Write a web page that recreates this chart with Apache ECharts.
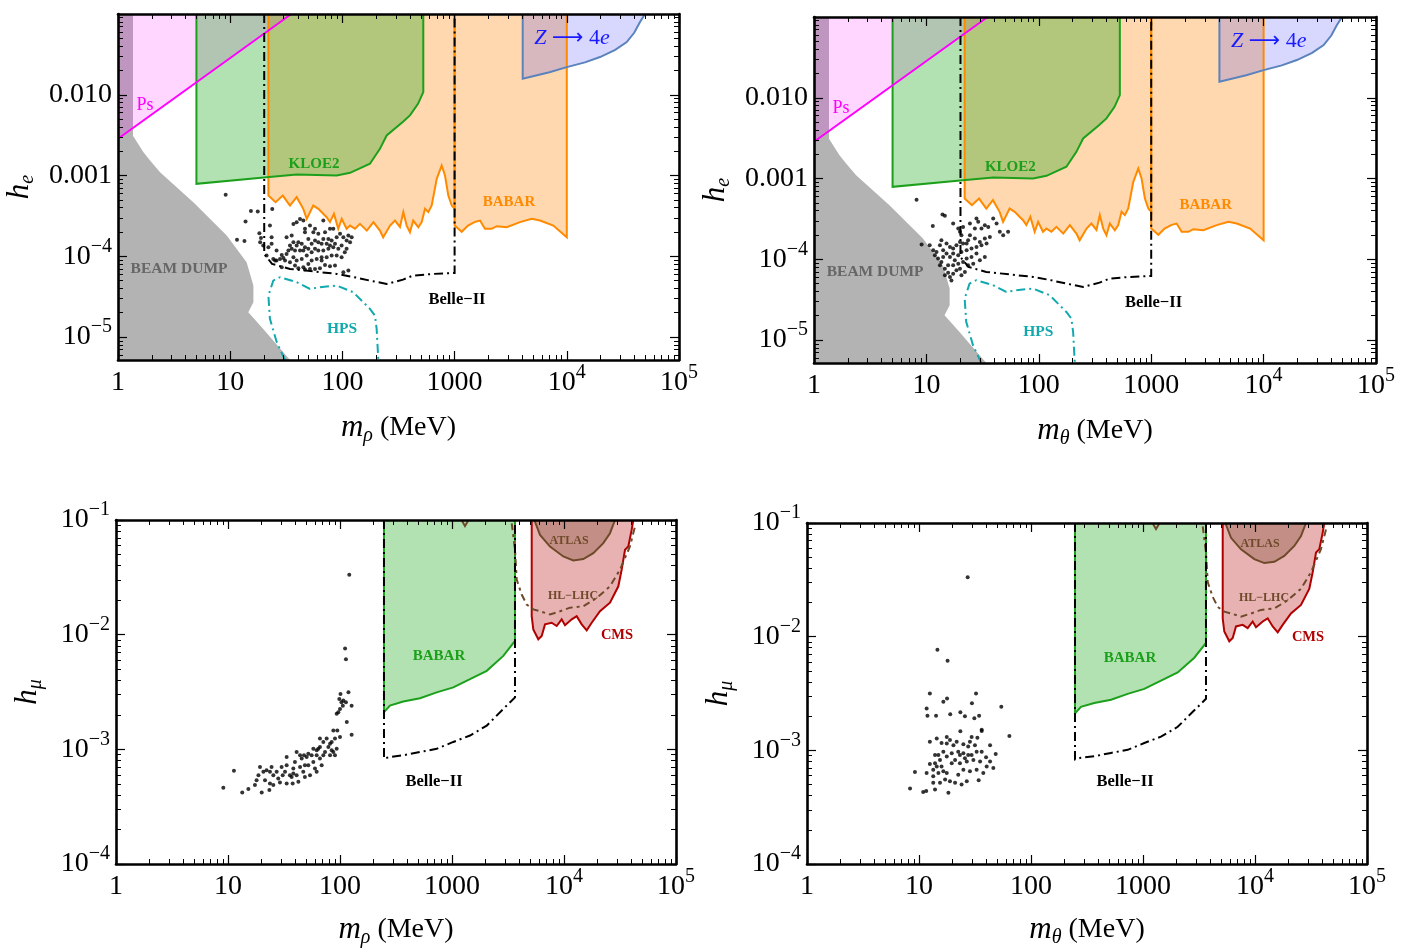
<!DOCTYPE html>
<html>
<head>
<meta charset="utf-8">
<script src="https://cdn.jsdelivr.net/npm/echarts@6/dist/echarts.min.js"></script>
<style>
  html, body { margin: 0; padding: 0; background: #ffffff; }
  #chart { width: 1402px; height: 949px; }
</style>
</head>
<body>
<div id="chart"></div>
<script>
// ---------------- axis ticks and ranges ----------------
const massRange = [1, 1e5];
const heRange = [5.2e-6, 0.1];
const hmuRange = [1e-4, 0.1];

const massTicks = [1, 10, 100, 1000, 1e4, 1e5];
const massTickLabels = ['1', '10', '100', '1000', '10{sup|4}', '10{sup|5}'];
const heTicks = [1e-5, 1e-4, 1e-3, 1e-2];
const heTickLabels = ['10{sup|−5}', '10{sup|−4}', '0.001', '0.010'];
const hmuTicks = [1e-4, 1e-3, 1e-2, 1e-1];
const hmuTickLabels = ['10{sup|−4}', '10{sup|−3}', '10{sup|−2}', '10{sup|−1}'];

// ---------------- electron-coupling bounds (m in MeV, h_e) ----------------
const beamDump = [[1, 0.1], [1.36, 0.1], [1.36, 3.1e-3], [1.68, 1.95e-3], [1.93, 1.53e-3], [2.37, 1.10e-3],
  [4.69, 4.68e-4], [9.31, 1.81e-4], [14.0, 8.45e-5], [16.1, 4.34e-5], [16.1, 2.70e-5], [14.5, 2.03e-5],
  [19.7, 1.26e-5], [34.1, 5.2e-6], [1, 5.2e-6]];
const psLine = [[1, 2.85e-3], [35.1, 0.1]];
const psRegion = [[1, 2.85e-3], [35.1, 0.1], [1, 0.1]];
const kloe2 = [[5, 0.1], [5, 7.9e-4], [21.1, 9.55e-4], [39.2, 1.03e-3], [88.9, 1.0e-3], [117, 1.08e-3],
  [176, 1.40e-3], [216, 2.14e-3], [248, 3.13e-3], [347, 4.63e-3], [400, 5.55e-3], [472, 7.73e-3],
  [526, 1.08e-2], [526, 0.1]];
const babarLow = [[21.9, 0.1], [21.9, 5.65e-4], [25.4, 4.68e-4], [29.4, 5.65e-4], [34.1, 4.25e-4],
  [39.1, 5.40e-4], [44.8, 3.87e-4], [48.1, 2.91e-4], [55.0, 4.25e-4], [61.0, 3.87e-4], [72.4, 3.05e-4],
  [77.5, 2.65e-4], [84.1, 3.35e-4], [91.9, 2.19e-4], [98.6, 2.91e-4], [109, 2.19e-4], [117, 2.40e-4],
  [129.5, 2.19e-4], [143.5, 2.52e-4], [165, 2.08e-4], [189, 2.65e-4], [216, 2.08e-4], [231, 1.72e-4],
  [266, 2.40e-4], [294, 2.77e-4], [326, 2.31e-4], [349, 3.52e-4], [374, 2.40e-4], [400, 1.99e-4],
  [428, 2.77e-4], [475, 2.29e-4], [509, 2.65e-4], [545, 3.87e-4], [583, 3.52e-4], [625, 4.25e-4],
  [693, 9.1e-4], [767, 1.33e-3], [821, 1.0e-3], [879, 5.65e-4], [943, 4.25e-4], [1000, 3.87e-4], [1000, 0.1]];
const babarHigh = [[1000, 0.1], [1000, 2.4e-4], [1044, 2.29e-4], [1157, 2.01e-4], [1316, 2.40e-4],
  [1520, 2.67e-4], [1684, 2.77e-4], [1866, 2.19e-4], [2142, 2.19e-4], [2372, 2.36e-4], [2913, 2.29e-4],
  [3827, 2.65e-4], [4867, 2.91e-4], [5769, 2.77e-4], [7582, 2.40e-4], [1e4, 1.72e-4], [1e4, 0.1]];
const zTo4e = [[4045, 0.1], [4045, 1.58e-2], [7000, 1.90e-2], [1e4, 2.20e-2], [14500, 2.52e-2],
  [19770, 2.93e-2], [27000, 3.60e-2], [34200, 4.50e-2], [40000, 5.90e-2], [44900, 7.96e-2], [49800, 0.1]];
const belleE = [[20.1, 0.1], [20.1, 1.07e-4], [23.6, 8.05e-5], [34.1, 6.98e-5], [89, 6.05e-5], [124, 5.56e-5],
  [176, 5.0e-5], [248, 4.55e-5], [347, 5.14e-5], [426, 5.77e-5], [642, 6.05e-5], [1000, 6.22e-5], [1000, 0.1]];
const hps = [[30.8, 5.2e-6], [26.0, 8.62e-6], [22.6, 1.68e-5], [21.9, 3.26e-5], [24.2, 5.0e-5], [27.8, 5.51e-5],
  [39.1, 4.78e-5], [51.4, 3.95e-5], [63.2, 4.14e-5], [89, 4.34e-5], [125, 3.59e-5], [176, 2.23e-5],
  [195, 1.84e-5], [202, 1.26e-5], [209, 5.2e-6]];

// ---------------- muon-coupling bounds (m in MeV, h_mu) ----------------
const babarMu = [[247, 0.1], [247, 2.11e-3], [279, 2.41e-3], [367, 2.61e-3], [518, 2.79e-3], [730, 3.14e-3],
  [1027, 3.47e-3], [1448, 4.10e-3], [2042, 4.84e-3], [2871, 6.53e-3], [3651, 8.81e-3], [3651, 0.1]];
const belleMu = [[247, 0.1], [247, 8.30e-4], [279, 8.59e-4], [367, 8.87e-4], [518, 9.49e-4], [730, 1.01e-3],
  [1027, 1.16e-3], [1448, 1.32e-3], [2042, 1.61e-3], [2871, 2.25e-3], [3651, 2.84e-3], [3651, 0.1]];
const cms = [[5148, 0.1], [5148, 1.45e-2], [5320, 1.11e-2], [5895, 9.11e-3], [6324, 9.73e-3], [6765, 1.23e-2],
  [7762, 1.27e-2], [8604, 1.19e-2], [9530, 1.36e-2], [10210, 1.21e-2], [11720, 1.36e-2], [12980, 1.45e-2],
  [14390, 1.23e-2], [15950, 1.09e-2], [17670, 1.27e-2], [20950, 1.60e-2], [25740, 1.90e-2], [30550, 2.64e-2],
  [32740, 3.69e-2], [35060, 5.50e-2], [37500, 5.87e-2], [40190, 8.19e-2], [41560, 0.1]];
const atlas = [[5430, 0.1], [6110, 7.41e-2], [7500, 5.87e-2], [9860, 4.81e-2], [12110, 4.44e-2],
  [14870, 4.56e-2], [18260, 5.14e-2], [22430, 6.28e-2], [25740, 7.67e-2], [28530, 0.1]];
const hlLhc = [[3413, 9.36e-2], [3651, 5.5e-2], [3783, 3.02e-2], [4190, 2.24e-2], [4645, 1.83e-2],
  [5320, 1.66e-2], [6110, 1.60e-2], [7500, 1.50e-2], [9210, 1.60e-2], [11320, 1.72e-2], [14870, 1.77e-2],
  [19590, 2.09e-2], [25740, 2.64e-2], [31620, 3.69e-2], [38790, 5.87e-2], [43010, 8.75e-2]];
const hlLhcNotch = [[1230, 0.098], [1306, 0.0885], [1390, 0.098]];

// ---------------- model points ----------------
const pointsRhoE = [[9.11,5.77e-4],[15.3,3.65e-4],[17.6,3.58e-4],[13.7,2.69e-4],[11.5,1.60e-4],[13.4,1.55e-4],
  [23.7,3.86e-4],[22.6,2.40e-4],[18.2,1.93e-4],[18.8,1.68e-4],[23.4,1.72e-4],[18.5,1.49e-4],[19.7,1.36e-4],
  [21.9,1.29e-4],[25.9,1.18e-4],[21.1,1.02e-4],[24.2,9.29e-5],[25.9,8.85e-5],[27.8,9.29e-5],[29.8,9.55e-5],
  [28.8,1.04e-4],[31.8,1.07e-4],[33.0,1.18e-4],[35.3,1.24e-4],[31.8,1.72e-4],[35.3,1.81e-4],[36.6,2.52e-4],
  [39.1,2.64e-4],[41.9,2.90e-4],[44.9,2.77e-4],[46.4,2.19e-4],[46.4,1.99e-4],[40.5,1.49e-4],[43.4,1.43e-4],
  [46.4,1.29e-4],[44.9,1.18e-4],[49.7,1.24e-4],[53.2,1.43e-4],[57.0,1.57e-4],[61.0,1.49e-4],[55.1,1.99e-4],
  [57.0,2.19e-4],[61.0,1.90e-4],[67.6,2.77e-4],[70.0,1.99e-4],[77.5,2.19e-4],[83.0,2.19e-4],[80.2,1.57e-4],
  [88.9,1.72e-4],[95.3,1.90e-4],[102,1.72e-4],[109,1.57e-4],[117,1.49e-4],[121,1.72e-4],[113,1.81e-4],
  [98.4,1.36e-4],[92.0,1.24e-4],[83.0,1.29e-4],[75.0,1.24e-4],[67.6,1.18e-4],[61.0,1.18e-4],[57.0,1.24e-4],
  [53.2,1.12e-4],[48.1,1.02e-4],[43.4,9.29e-5],[39.1,8.85e-5],[37.8,7.67e-5],[40.5,7.11e-5],[44.9,7.31e-5],
  [49.7,8.05e-5],[53.2,8.85e-5],[59.0,9.29e-5],[65.3,9.73e-5],[72.4,9.73e-5],[80.2,1.02e-4],[88.9,1.02e-4],
  [98.4,9.73e-5],[105,1.12e-4],[109,1.24e-4],[85.9,7.67e-5],[77.5,7.53e-5],[70.0,7.82e-5],[63.1,7.11e-5],
  [57.0,6.98e-5],[51.4,6.98e-5],[46.4,6.85e-5],[102,6.35e-5],[113,6.65e-5],[28.8,7.32e-5],[25.1,8.85e-5],
  [34.1,8.45e-5],[36.6,9.73e-5],[39.1,1.36e-4],[41.9,1.18e-4],[36.6,1.49e-4],[34.1,1.36e-4],[37.8,1.18e-4],
  [65.3,1.43e-4],[72.4,1.43e-4],[77.5,1.36e-4],[85.9,1.43e-4],[75.0,1.64e-4],[67.6,1.64e-4],[49.7,1.64e-4],
  [51.4,2.40e-4],[23.4,1.43e-4],[30.8,8.85e-5],[65.3,8.85e-5]];
const pointsThetaE = [[8.17,5.46e-4],[13.9,3.59e-4],[14.6,3.45e-4],[11.4,2.59e-4],[9.06,1.52e-4],[10.7,1.49e-4],
  [17.3,2.77e-4],[19.2,2.40e-4],[19.9,2.19e-4],[21.2,2.52e-4],[24.4,2.77e-4],[27.9,3.20e-4],[28.9,2.91e-4],
  [30.9,2.40e-4],[33.1,2.64e-4],[35.5,2.52e-4],[39.3,3.20e-4],[42.1,2.77e-4],[45.0,2.19e-4],[48.2,1.99e-4],
  [53.3,2.19e-4],[36.7,1.89e-4],[33.1,1.81e-4],[29.9,1.64e-4],[27.0,1.81e-4],[24.4,1.99e-4],[23.5,1.72e-4],
  [21.2,1.57e-4],[19.9,1.64e-4],[18.5,1.49e-4],[17.3,1.36e-4],[16.2,1.42e-4],[15.1,1.57e-4],[13.6,1.72e-4],
  [13.2,1.49e-4],[14.1,1.29e-4],[12.3,1.23e-4],[11.9,1.12e-4],[12.7,1.02e-4],[13.6,9.27e-5],[13.2,8.43e-5],
  [14.6,7.66e-5],[15.6,6.83e-5],[16.2,6.04e-5],[17.3,6.64e-5],[18.5,7.30e-5],[19.9,7.66e-5],[19.2,8.83e-5],
  [17.9,9.72e-5],[16.2,1.07e-4],[15.1,1.18e-4],[17.3,1.18e-4],[19.2,1.12e-4],[20.5,1.23e-4],[22.8,1.29e-4],
  [25.2,1.36e-4],[27.9,1.42e-4],[30.9,1.49e-4],[34.3,1.57e-4],[27.9,1.18e-4],[25.2,1.07e-4],[22.8,1.02e-4],
  [21.2,9.27e-5],[23.5,8.43e-5],[26.1,8.83e-5],[29.9,9.72e-5],[33.1,1.07e-4],[22.0,6.97e-5],[20.5,6.33e-5],
  [15.6,8.43e-5],[14.1,1.07e-4],[17.3,8.43e-5],[11.5,1.29e-4],[14.6,6.33e-5],[16.7,5.48e-5],[22.8,1.57e-4],
  [27.0,2.40e-4],[20.5,1.99e-4]];
const pointsRhoMu = [[9.08,4.62e-4],[11.3,6.49e-4],[13.4,4.21e-4],[15.2,4.50e-4],[18.0,5.38e-4],[18.7,5.95e-4],
  [19.3,7.03e-4],[20.0,4.21e-4],[21.4,5.38e-4],[23.4,4.41e-4],[23.7,5.03e-4],[23.7,6.36e-4],[24.5,7.03e-4],
  [25.4,5.95e-4],[28.1,5.57e-4],[29.1,5.14e-4],[30.1,7.03e-4],[32.3,6.36e-4],[33.4,7.26e-4],[35.7,5.95e-4],
  [37.8,5.03e-4],[38.3,6.79e-4],[39.6,7.76e-4],[41.0,5.95e-4],[42.5,5.21e-4],[44.0,7.03e-4],[45.5,8.30e-4],
  [47.0,6.36e-4],[48.6,7.26e-4],[50.4,8.57e-4],[52.1,7.26e-4],[54.0,5.95e-4],[55.8,8.87e-4],[57.8,7.76e-4],
  [59.8,6.79e-4],[61.9,8.87e-4],[64.0,1.01e-3],[66.2,8.30e-4],[68.6,7.26e-4],[71.0,1.16e-3],[73.5,9.48e-4],
  [76.0,1.24e-3],[78.7,1.05e-3],[81.5,8.87e-4],[84.3,1.16e-3],[87.2,9.48e-4],[90.2,1.24e-3],[93.4,1.01e-3],
  [87.2,1.46e-3],[93.4,2.04e-3],[96.6,2.11e-3],[100,2.25e-3],[103,2.57e-3],[107,2.66e-3],[101,3.04e-3],
  [119,3.14e-3],[113,2.57e-3],[127,2.40e-3],[100,1.28e-3],[115,1.73e-3],[111,7.57e-3],[113,6.11e-3],
  [121,3.33e-2],[127,1.34e-3],[94.6,1.46e-3],[81.5,1.12e-3],[66.2,1.24e-3],[61.9,9.80e-4],[52.1,9.16e-4],
  [47.7,8.87e-4],[37.0,5.75e-4],[33.4,5.03e-4],[30.8,5.95e-4],[27.2,6.36e-4],[25.4,4.88e-4],[22.1,6.58e-4],
  [20.7,6.36e-4],[17.4,4.88e-4],[41.0,9.48e-4],[57.8,1.01e-3],[71.0,8.87e-4],[84.3,9.80e-4],[90.2,8.87e-4],
  [33.4,8.57e-4],[38.3,6.15e-4],[48.6,5.75e-4],[61.9,6.36e-4],[66.2,1.05e-3],[44.0,8.87e-4],[98.6,2.75e-3],
  [106,2.40e-3]];
const pointsThetaMu = [[27.2,3.33e-2],[14.6,7.66e-3],[18.0,6.15e-3],[12.5,3.16e-3],[11.7,2.33e-3],[11.9,2.02e-3],
  [14.2,2.02e-3],[16.5,2.68e-3],[17.8,2.86e-3],[19.0,2.08e-3],[23.4,2.16e-3],[25.7,1.99e-3],[29.7,2.59e-3],
  [32.3,3.16e-3],[31.2,1.92e-3],[34.4,2.01e-3],[54.3,2.42e-3],[64.1,1.34e-3],[23.4,1.47e-3],[36.3,1.48e-3],
  [33.2,1.29e-3],[31.6,1.11e-3],[28.5,1.19e-3],[27.5,1.08e-3],[43.1,1.11e-3],[48.4,9.29e-4],[39.7,8.69e-4],
  [46.1,6.98e-4],[37.5,6.31e-4],[34.1,5.46e-4],[35.1,7.98e-4],[30.6,8.24e-4],[26.7,7.98e-4],[24.9,9.42e-4],
  [22.4,9.73e-4],[21.7,1.19e-3],[20.3,1.11e-3],[18.9,1.23e-3],[17.7,1.31e-3],[15.9,1.16e-3],[14.4,1.27e-3],
  [12.5,1.19e-3],[13.9,9.10e-4],[14.9,9.10e-4],[16.5,9.73e-4],[17.7,8.81e-4],[19.6,9.42e-4],[21.0,8.24e-4],
  [23.2,7.71e-4],[24.9,6.75e-4],[22.4,6.11e-4],[21.0,5.18e-4],[18.9,5.35e-4],[17.7,6.31e-4],[16.5,6.53e-4],
  [14.9,6.31e-4],[13.4,5.91e-4],[12.5,7.60e-4],[13.9,7.71e-4],[14.4,7.21e-4],[15.9,7.21e-4],[17.1,5.53e-4],
  [15.4,5.18e-4],[13.4,5.18e-4],[13.9,4.53e-4],[11.7,6.31e-4],[9.20,6.44e-4],[8.32,4.62e-4],[10.9,4.30e-4],
  [11.6,4.38e-4],[18.3,4.24e-4],[24.0,5.00e-4],[26.7,5.35e-4],[28.5,6.53e-4],[32.7,6.75e-4],[40.2,7.21e-4],
  [43.1,7.98e-4],[36.3,9.73e-4],[29.5,9.10e-4],[25.7,8.51e-4],[19.6,7.71e-4],[32.7,9.73e-4],[23.2,9.10e-4],
  [15.4,8.24e-4],[13.4,6.75e-4],[17.7,1.15e-3],[24.9,1.13e-3],[29.5,1.31e-3],[36.3,1.52e-3],[27.5,9.10e-4]];

// ---------------- region labels ----------------
const labelsE = ['Ps', 'KLOE2', 'BABAR', 'BEAM DUMP', 'HPS', 'Belle−II', '{i|Z} {a|⟶} 4{i|e}'];
const labelsEAt = [[1.74, 7.31e-3], [55.8, 1.40e-3], [3055, 4.72e-4], [3.50, 6.98e-5], [99.1, 1.26e-5], [1050, 2.88e-5], [11120, 4.95e-2]];
const labelsMu = ['BABAR', 'Belle−II', 'ATLAS', 'HL−LHC', 'CMS'];
const labelsMuAt = [[766, 6.49e-3], [691, 5.25e-4], [11090, 6.57e-2], [12030, 2.19e-2], [29730, 9.87e-3]];

// ---------------- styling ----------------
const SERIF = "'Liberation Serif', 'DejaVu Serif', serif";
const labelStylesE = [
  { fill: '#ff00ff', fontSize: 18, fontWeight: 'normal' },
  { fill: '#1ca01c', fontSize: 15, fontWeight: 'bold' },
  { fill: '#ff8a00', fontSize: 15, fontWeight: 'bold' },
  { fill: '#666666', fontSize: 15.5, fontWeight: 'bold' },
  { fill: '#12a9ae', fontSize: 15.5, fontWeight: 'bold' },
  { fill: '#000000', fontSize: 16.5, fontWeight: 'bold' },
  { fill: '#1a1aff', fontSize: 22, fontWeight: 'normal' }
];
const labelStylesMu = [
  { fill: '#1ca01c', fontSize: 15, fontWeight: 'bold' },
  { fill: '#000000', fontSize: 16.5, fontWeight: 'bold' },
  { fill: '#6e4a2a', fontSize: 12, fontWeight: 'bold' },
  { fill: '#6e4a2a', fontSize: 12, fontWeight: 'bold' },
  { fill: '#b00000', fontSize: 14.5, fontWeight: 'bold' }
];

const grids = [
  { left: 118, top: 14, width: 561, height: 346 },
  { left: 814, top: 17, width: 562, height: 346 },
  { left: 116, top: 520, width: 560, height: 346 },
  { left: 807, top: 523, width: 560, height: 346 }
];

function decadeMinors(lo, hi) {
  const out = [];
  for (let e = lo; e < hi; e++) for (let d = 2; d <= 9; d++) out.push(d * Math.pow(10, e));
  return out;
}
function tickFormatter(vals, texts) {
  return function (v) {
    for (let i = 0; i < vals.length; i++) {
      if (Math.abs(Math.log10(v) - Math.log10(vals[i])) < 1e-3) return texts[i];
    }
    return '';
  };
}

const TICK_FONT = 28;
const SUP_FONT = 20;
const xAxes = [], yAxes = [];
function addAxes(list, dim, gi, range, majors, minors, labelTexts, name, nameGap) {
  const sides = dim === 'x' ? ['bottom', 'top'] : ['left', 'right'];
  const base = {
    type: 'log', logBase: 10, gridIndex: gi, min: range[0], max: range[1], z: 10,
    splitLine: { show: false }, silent: true
  };
  const frame = { show: true, onZero: false, lineStyle: { color: '#000', width: 2.6 } };
  const major = { show: true, inside: true, length: 9, customValues: majors, lineStyle: { color: '#000', width: 1.2 } };
  const minor = { show: true, inside: true, length: 5, customValues: minors, lineStyle: { color: '#000', width: 1 } };
  list.push(Object.assign({}, base, {
    position: sides[0], axisLine: frame, axisTick: major,
    axisLabel: {
      show: true, customValues: majors, formatter: tickFormatter(majors, labelTexts),
      margin: dim === 'x' ? 3 : 6, color: '#000', fontFamily: SERIF, fontSize: TICK_FONT,
      lineHeight: 40,
      rich: { sup: { fontFamily: SERIF, fontSize: SUP_FONT, lineHeight: SUP_FONT, verticalAlign: 'top', color: '#000' } }
    },
    name: name, nameLocation: 'middle', nameGap: nameGap,
    nameTextStyle: {
      fontFamily: SERIF, fontSize: 28, color: '#000', lineHeight: 36,
      rich: {
        it: { fontFamily: SERIF, fontStyle: 'italic', fontSize: 31, color: '#000' },
        sub: { fontFamily: SERIF, fontStyle: 'italic', fontSize: 20, lineHeight: 20, verticalAlign: 'bottom', color: '#000' }
      }
    }
  }));
  list.push(Object.assign({}, base, { position: sides[0], axisLine: { show: false }, axisTick: minor, axisLabel: { show: false } }));
  list.push(Object.assign({}, base, { position: sides[1], axisLine: frame, axisTick: major, axisLabel: { show: false } }));
  list.push(Object.assign({}, base, { position: sides[1], axisLine: { show: false }, axisTick: minor, axisLabel: { show: false } }));
}

const massMinors = decadeMinors(0, 5);
const heMinors = decadeMinors(-6, -1);
const hmuMinors = decadeMinors(-4, -1);
const massNames = ['{it|m}{sub|ρ} (MeV)', '{it|m}{sub|θ} (MeV)'];

for (let gi = 0; gi < 4; gi++) {
  const top = gi < 2;
  addAxes(xAxes, 'x', gi, massRange, massTicks, massMinors, massTickLabels, massNames[gi % 2], top ? 50 : 48);
  addAxes(yAxes, 'y', gi, top ? heRange : hmuRange, top ? heTicks : hmuTicks, top ? heMinors : hmuMinors,
    top ? heTickLabels : hmuTickLabels, top ? '{it|h}{sub|e}' : '{it|h}{sub|μ}', top ? 80 : 70);
}

// ---------------- series builders ----------------
function polygon(gi, pts, fill) {
  return {
    type: 'custom', xAxisIndex: gi * 4, yAxisIndex: gi * 4, data: pts, silent: true, clip: true, z: 2,
    renderItem: function (params, api) {
      if (params.dataIndex !== 0) return null;
      return { type: 'polygon', shape: { points: pts.map(p => api.coord(p)) }, style: { fill: fill, stroke: null } };
    }
  };
}
function outline(gi, pts, color, width, dash) {
  return {
    type: 'line', xAxisIndex: gi * 4, yAxisIndex: gi * 4, data: pts, showSymbol: false, symbol: 'none',
    silent: true, z: 3, animation: false,
    lineStyle: { color: color, width: width, type: dash || 'solid', cap: 'butt', join: 'miter' }
  };
}
function points(gi, pts) {
  return {
    type: 'scatter', xAxisIndex: gi * 4, yAxisIndex: gi * 4, data: pts, symbol: 'circle', symbolSize: 4,
    itemStyle: { color: '#000' }, silent: true, z: 4
  };
}
function labels(gi, texts, at, styles) {
  return {
    type: 'custom', xAxisIndex: gi * 4, yAxisIndex: gi * 4, data: at, silent: true, z: 5, clip: false,
    renderItem: function (params, api) {
      const i = params.dataIndex;
      const p = api.coord(at[i]);
      const s = styles[i];
      return {
        type: 'text', x: p[0], y: p[1],
        style: {
          text: texts[i], fill: s.fill, fontFamily: SERIF, fontSize: s.fontSize, fontWeight: s.fontWeight,
          align: 'center', verticalAlign: 'middle',
          rich: {
            i: { fontFamily: SERIF, fontSize: s.fontSize, fontStyle: 'italic', fill: s.fill },
            a: { fontFamily: "'DejaVu Sans', sans-serif", fontSize: s.fontSize, fill: s.fill }
          }
        }
      };
    }
  };
}

const DASHDOT = [9, 4, 2, 4];
const series = [];
for (const gi of [0, 1]) {
  series.push(polygon(gi, beamDump, '#b3b3b3'));
  series.push(polygon(gi, psRegion, 'rgba(255,0,255,0.16)'));
  series.push(polygon(gi, babarLow, 'rgba(255,128,0,0.31)'));
  series.push(polygon(gi, babarHigh, 'rgba(255,128,0,0.31)'));
  series.push(polygon(gi, kloe2, 'rgba(0,160,0,0.3)'));
  series.push(polygon(gi, zTo4e, 'rgba(60,60,255,0.2)'));
  series.push(outline(gi, babarLow, '#ff8a00', 2));
  series.push(outline(gi, babarHigh, '#ff8a00', 2));
  series.push(outline(gi, kloe2, '#1ca01c', 2));
  series.push(outline(gi, zTo4e, '#5a82bd', 2));
  series.push(outline(gi, psLine, '#ff00ff', 2));
  series.push(outline(gi, hps, '#12a9ae', 2, DASHDOT));
  series.push(outline(gi, belleE, '#000000', 2, DASHDOT));
  series.push(points(gi, gi === 0 ? pointsRhoE : pointsThetaE));
  series.push(labels(gi, labelsE, labelsEAt, labelStylesE));
}
for (const gi of [2, 3]) {
  series.push(polygon(gi, babarMu, 'rgba(0,160,0,0.3)'));
  series.push(polygon(gi, cms, 'rgba(180,0,0,0.3)'));
  series.push(polygon(gi, atlas, 'rgba(110,60,30,0.3)'));
  series.push(outline(gi, babarMu, '#1ca01c', 2));
  series.push(outline(gi, cms, '#b00000', 2));
  series.push(outline(gi, atlas, '#6e4a2a', 2));
  series.push(outline(gi, hlLhc, '#6e4a2a', 2, [7, 4, 3, 4]));
  series.push(outline(gi, hlLhcNotch, '#6e4a2a', 2));
  series.push(outline(gi, belleMu, '#000000', 2, DASHDOT));
  series.push(points(gi, gi === 2 ? pointsRhoMu : pointsThetaMu));
  series.push(labels(gi, labelsMu, labelsMuAt, labelStylesMu));
}

const chart = echarts.init(document.getElementById('chart'), null, { renderer: 'canvas' });
chart.setOption({
  backgroundColor: '#ffffff',
  animation: false,
  grid: grids.map(g => Object.assign({ containLabel: false }, g)),
  xAxis: xAxes,
  yAxis: yAxes,
  series: series
});
</script>
</body>
</html>
